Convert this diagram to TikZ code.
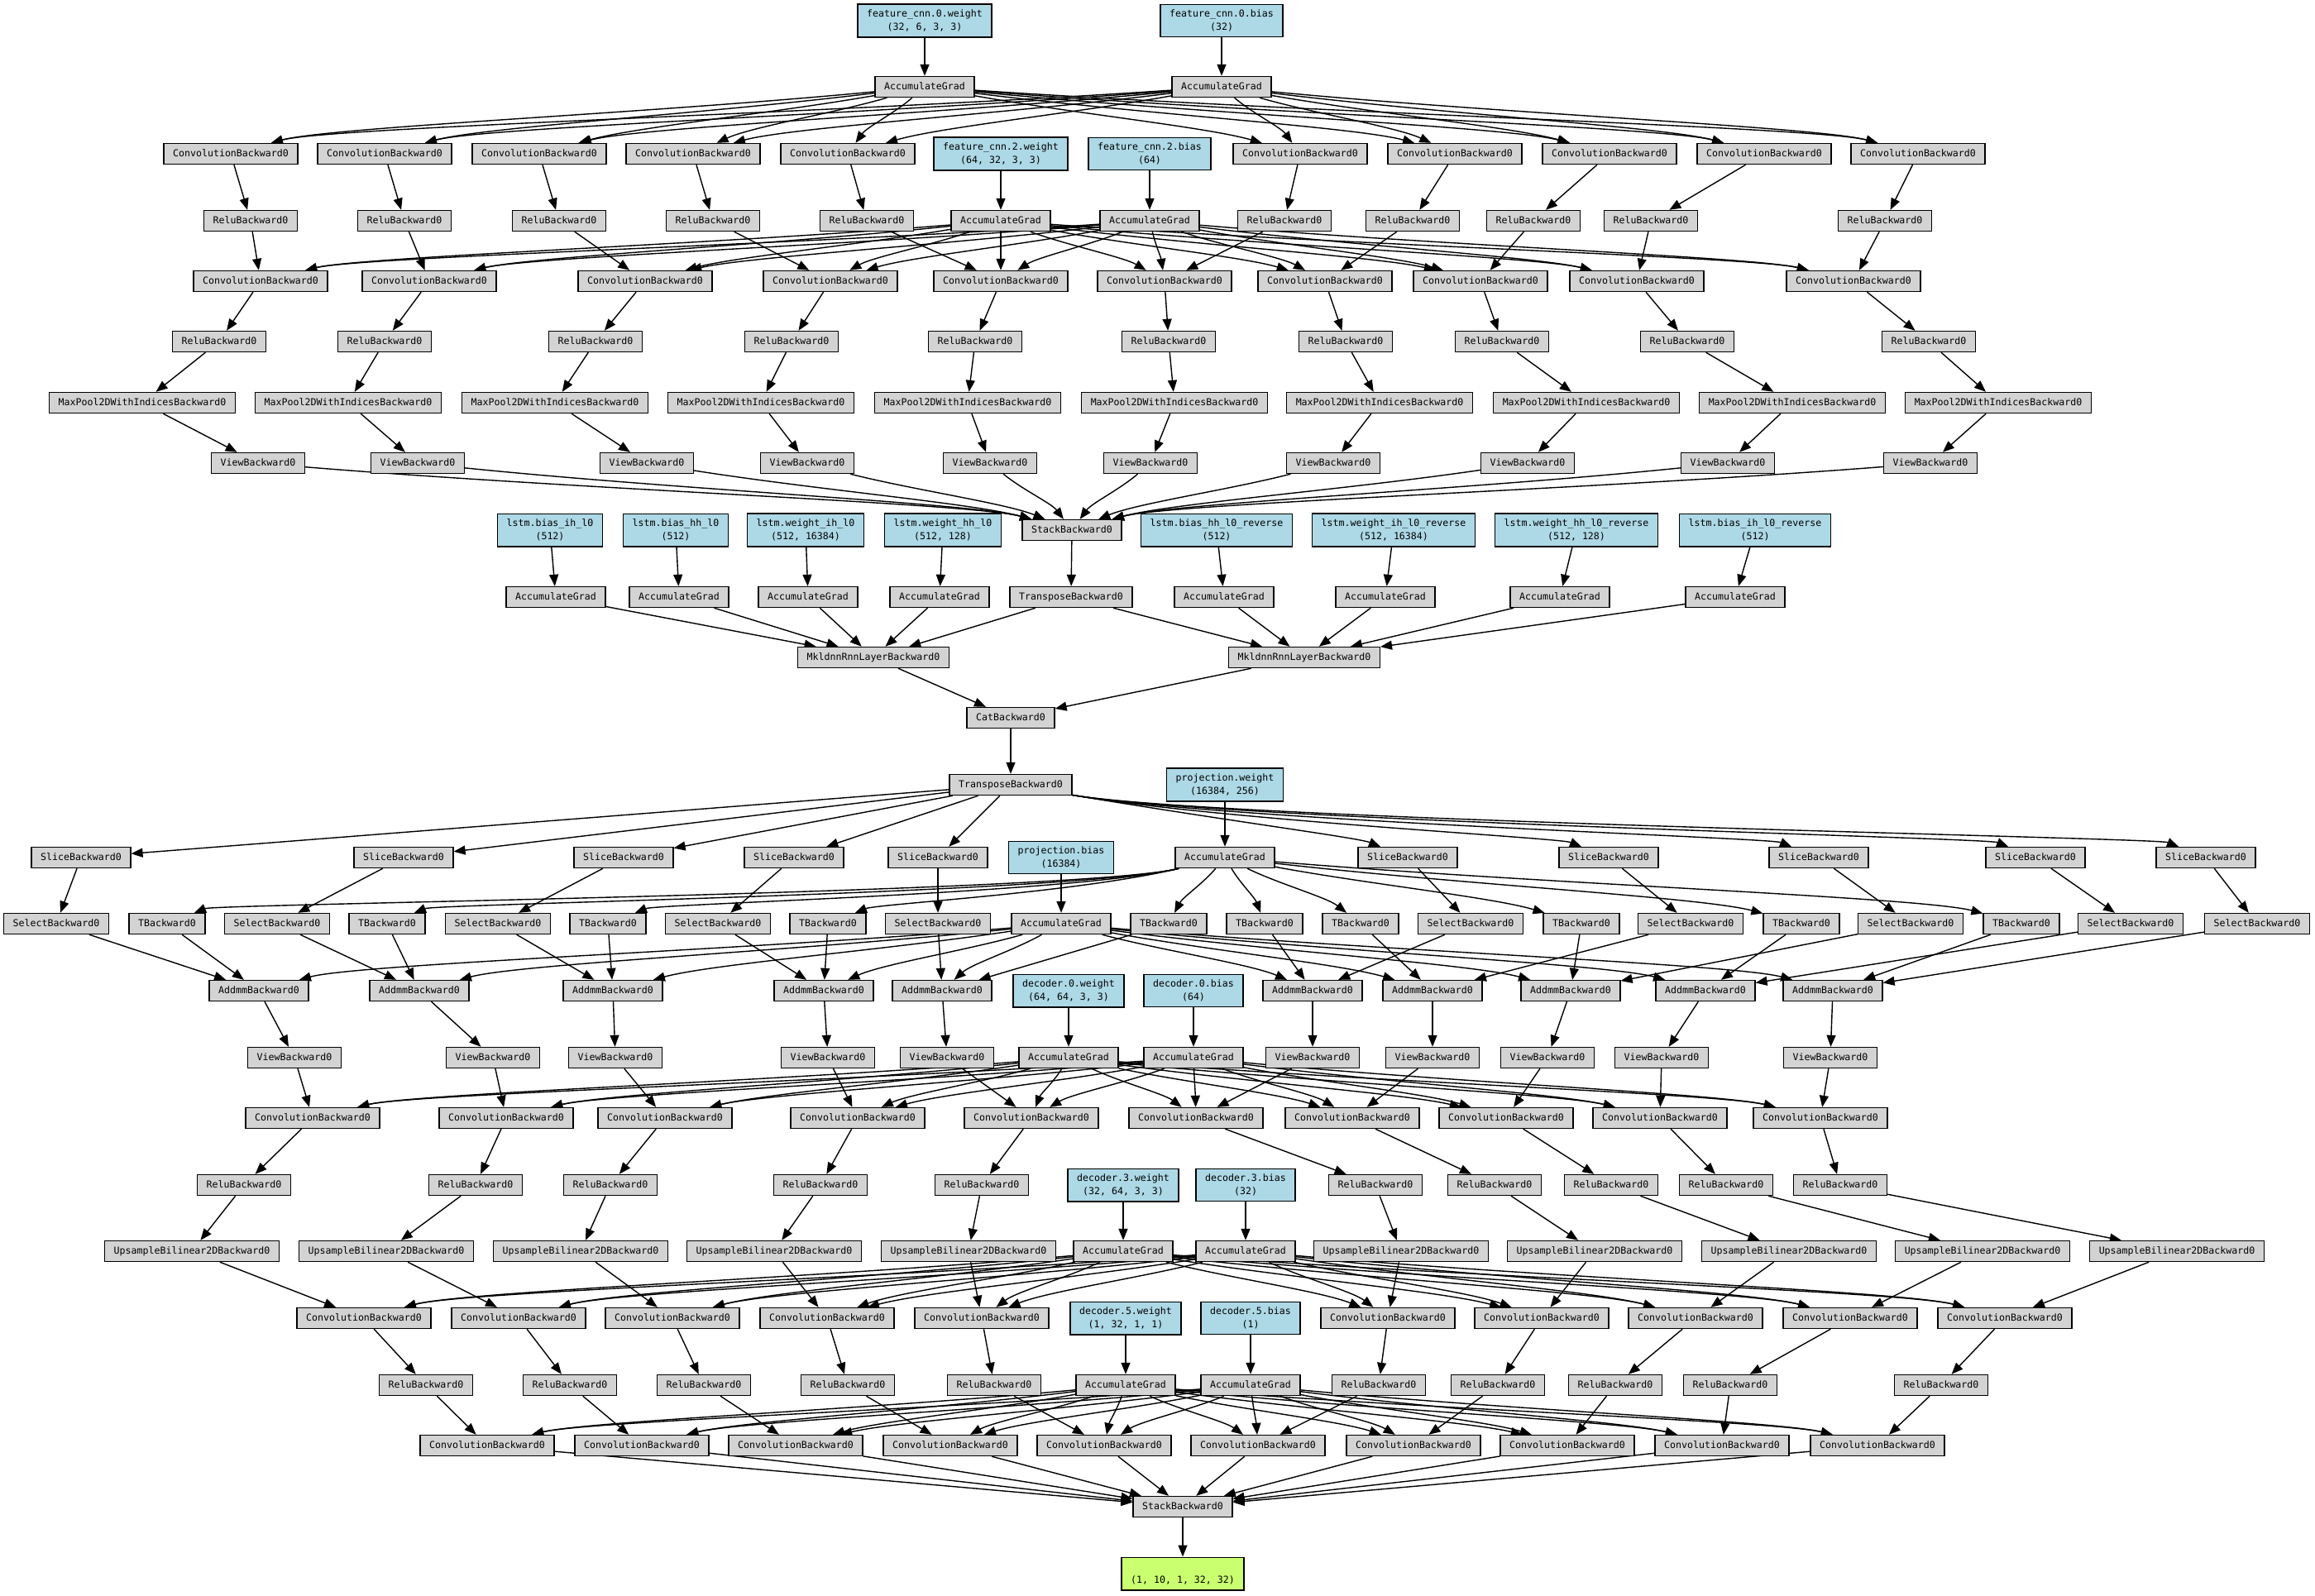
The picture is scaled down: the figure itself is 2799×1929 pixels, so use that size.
\documentclass[tikz,border=0pt]{standalone}
\usepackage{fontspec}
\usetikzlibrary{arrows.meta,calc}
\newfontfamily\gvmono{DejaVu Sans Mono}
\newcommand{\gvfont}{\gvmono\fontsize{5.8}{8}\selectfont}
\definecolor{opgrey}{HTML}{D3D3D3}
\definecolor{parblue}{HTML}{ADD8E6}
\definecolor{outgreen}{HTML}{CAFF70}
\pgfdeclarelayer{edgelayer}
\pgfsetlayers{edgelayer,main}
\makeatletter
\newcommand{\gvedge}[2]{%
  \pgfpointanchor{#1}{center}\edef\gvax{\strip@pt\pgf@x}\edef\gvay{\strip@pt\pgf@y}%
  \pgfpointanchor{#2}{center}\edef\gvbx{\strip@pt\pgf@x}\edef\gvby{\strip@pt\pgf@y}%
  \pgfmathsetmacro{\gvn}{max(-60,min(60,0.25*(\gvax-\gvbx)))}%
  \pgfmathsetmacro{\gvr}{0.4*(\gvay-\gvby)}%
  \draw[e] (#1) .. controls ($(#1)!0.4!(#2)$) and ($(#2)+(\gvn pt,\gvr pt)$) .. (#2);%
}
\makeatother
\begin{document}
\begin{tikzpicture}[x=0.5pt,y=-0.5pt,
  nb/.style={draw=black, line width=0.7pt, font=\gvfont, inner xsep=5.5pt, rectangle},
  op/.style={nb, fill=opgrey, inner ysep=0pt, minimum height=12.5pt, text height=4.3pt, text depth=1.2pt},
  par/.style={nb, fill=parblue, align=center, inner ysep=3.3pt},
  res/.style={nb, fill=outgreen, align=center, inner ysep=3.3pt},
  e/.style={line width=0.7pt, -{Triangle[length=7pt,width=5.5pt]}},
]
\useasboundingbox (0,0) rectangle (2799,1929);

% ---------- feature CNN ----------
\node[par] (w0) at (1118,25) {feature\_cnn.0.weight\\(32, 6, 3, 3)};
\node[par] (b0) at (1477,25) {feature\_cnn.0.bias\\(32)};
\node[op] (A1) at (1118,105) {AccumulateGrad};
\node[op] (A2) at (1477,105) {AccumulateGrad};
\node[par] (w2) at (1210,186) {feature\_cnn.2.weight\\(64, 32, 3, 3)};
\node[par] (b2) at (1390,186) {feature\_cnn.2.bias\\(64)};
\node[op] (A3) at (1210,267) {AccumulateGrad};
\node[op] (A4) at (1390,267) {AccumulateGrad};

\foreach \x [count=\i from 0] in {279,465,652,838,1025,1572,1759,1946,2133,2319}
  \node[op] (ca\i) at (\x,186) {ConvolutionBackward0};
\foreach \x [count=\i from 0] in {303,489,676,862,1048,1553,1708,1854,1996,2279}
  \node[op] (ra\i) at (\x,267) {ReluBackward0};
\foreach \x [count=\i from 0] in {315,519,780,1004,1210,1408,1602,1790,1979,2241}
  \node[op] (cb\i) at (\x,340) {ConvolutionBackward0};
\foreach \x [count=\i from 0] in {265,465,720,957,1179,1413,1627,1816,2040,2332}
  \node[op] (rb\i) at (\x,413) {ReluBackward0};
\foreach \x [count=\i from 0] in {172,421,671,920,1170,1420,1668,1918,2167,2416}
  \node[op] (mp\i) at (\x,487) {MaxPool2DWithIndicesBackward0};
\foreach \x [count=\i from 0] in {312,505,782,976,1197,1391,1612,1847,2089,2334}
  \node[op] (va\i) at (\x,560) {ViewBackward0};

\node[op] (st1) at (1296,641) {StackBackward0};

% ---------- LSTM ----------
\node[par] (l0) at (665,641) {lstm.bias\_ih\_l0\\(512)};
\node[par] (l1) at (817,641) {lstm.bias\_hh\_l0\\(512)};
\node[par] (l2) at (974,641) {lstm.weight\_ih\_l0\\(512, 16384)};
\node[par] (l3) at (1140,641) {lstm.weight\_hh\_l0\\(512, 128)};
\node[par] (l4) at (1471,641) {lstm.bias\_hh\_l0\_reverse\\(512)};
\node[par] (l5) at (1685,641) {lstm.weight\_ih\_l0\_reverse\\(512, 16384)};
\node[par] (l6) at (1906,641) {lstm.weight\_hh\_l0\_reverse\\(512, 128)};
\node[par] (l7) at (2122,641) {lstm.bias\_ih\_l0\_reverse\\(512)};
\foreach \x [count=\i from 0] in {672,821,977,1136,1480,1675,1886,2098}
  \node[op] (g\i) at (\x,722) {AccumulateGrad};
\node[op] (tr1) at (1295,722) {TransposeBackward0};
\node[op] (mk0) at (1056,795) {MkldnnRnnLayerBackward0};
\node[op] (mk1) at (1577,795) {MkldnnRnnLayerBackward0};
\node[op] (cat) at (1222,868) {CatBackward0};
\node[op] (tr2) at (1222,949) {TransposeBackward0};

% ---------- projection ----------
\node[par] (pw) at (1481,949) {projection.weight\\(16384, 256)};
\node[op] (P) at (1481,1037) {AccumulateGrad};
\node[par] (pb) at (1283,1037) {projection.bias\\(16384)};
\node[op] (B) at (1283,1117) {AccumulateGrad};

\foreach \x [count=\i from 0] in {98,488,754,960,1134,1702,1945,2199,2461,2667}
  \node[op] (s\i) at (\x,1037) {SliceBackward0};
\foreach \x [count=\i from 0] in {68,335,602,868,1134,1778,2044,2310,2576,2729}
  \node[op] (q\i) at (\x,1117) {SelectBackward0};
\foreach \x [count=\i from 0] in {202,468,735,1001,1413,1529,1645,1912,2178,2444}
  \node[op] (t\i) at (\x,1117) {TBackward0};
\foreach \x [count=\i from 0] in {313,507,741,996,1139,1587,1732,1899,2062,2216}
  \node[op] (m\i) at (\x,1198) {AddmmBackward0};
\foreach \x [count=\i from 0] in {356,596,744,1001,1145,1587,1732,1871,2009,2213}
  \node[op] (vb\i) at (\x,1279) {ViewBackward0};

% ---------- decoder ----------
\node[par] (dw0) at (1292,1198) {decoder.0.weight\\(64, 64, 3, 3)};
\node[par] (db0) at (1443,1198) {decoder.0.bias\\(64)};
\node[op] (D0w) at (1292,1279) {AccumulateGrad};
\node[op] (D0b) at (1443,1279) {AccumulateGrad};
\node[par] (dw3) at (1358,1433) {decoder.3.weight\\(32, 64, 3, 3)};
\node[par] (db3) at (1506,1433) {decoder.3.bias\\(32)};
\node[op] (D3w) at (1358,1513) {AccumulateGrad};
\node[op] (D3b) at (1506,1513) {AccumulateGrad};
\node[par] (dw5) at (1361,1594) {decoder.5.weight\\(1, 32, 1, 1)};
\node[par] (db5) at (1512,1594) {decoder.5.bias\\(1)};
\node[op] (D5w) at (1361,1675) {AccumulateGrad};
\node[op] (D5b) at (1512,1675) {AccumulateGrad};

\foreach \x [count=\i from 0] in {378,612,804,1037,1247,1446,1635,1821,2007,2201}
  \node[op] (cc\i) at (\x,1352) {ConvolutionBackward0};
\foreach \x [count=\i from 0] in {295,575,738,992,1187,1663,1807,1948,2087,2225}
  \node[op] (rc\i) at (\x,1433) {ReluBackward0};
\foreach \x [count=\i from 0] in {232,467,702,936,1171,1694,1928,2163,2397,2632}
  \node[op] (u\i) at (\x,1513) {UpsampleBilinear2DBackward0};
\foreach \x [count=\i from 0] in {440,627,813,1000,1187,1678,1864,2050,2237,2424}
  \node[op] (cd\i) at (\x,1594) {ConvolutionBackward0};
\foreach \x [count=\i from 0] in {515,689,851,1025,1202,1667,1811,1953,2092,2347}
  \node[op] (rd\i) at (\x,1675) {ReluBackward0};
\foreach \x [count=\i from 0] in {589,776,962,1149,1335,1521,1709,1895,2082,2270}
  \node[op] (ce\i) at (\x,1748) {ConvolutionBackward0};
\node[op] (st2) at (1430,1822) {StackBackward0};
\node[res] (out) at (1430,1903) {\rule{0pt}{4.4pt}\\(1, 10, 1, 32, 32)};

% ---------- edges ----------
\begin{pgfonlayer}{edgelayer}
\draw[e] (w0) -- (A1);
\draw[e] (b0) -- (A2);
\draw[e] (w2) -- (A3);
\draw[e] (b2) -- (A4);
\foreach \i in {0,...,9} {
  \gvedge{A1}{ca\i}
  \gvedge{A2}{ca\i}
  \draw[e] (ca\i) -- (ra\i);
  \draw[e] (ra\i) -- (cb\i);
  \gvedge{A3}{cb\i}
  \gvedge{A4}{cb\i}
  \draw[e] (cb\i) -- (rb\i);
  \draw[e] (rb\i) -- (mp\i);
  \draw[e] (mp\i) -- (va\i);
  \gvedge{va\i}{st1}
}
\foreach \i in {0,...,7} \draw[e] (l\i) -- (g\i);
\foreach \i in {0,...,3} \draw[e] (g\i) -- (mk0);
\foreach \i in {4,...,7} \draw[e] (g\i) -- (mk1);
\draw[e] (st1) -- (tr1);
\draw[e] (tr1) -- (mk0);
\draw[e] (tr1) -- (mk1);
\draw[e] (mk0) -- (cat);
\draw[e] (mk1) -- (cat);
\draw[e] (cat) -- (tr2);
\draw[e] (pw) -- (P);
\draw[e] (pb) -- (B);
\foreach \i in {0,...,4} \draw[e] (tr2) -- (s\i);
\foreach \i in {5,...,9} \draw[e] (tr2) .. controls (1480,992) and ($(s\i)+(-30pt,12pt)$) .. (s\i);
\foreach \i in {0,...,3} \draw[e] (P) .. controls (1300,1080) and ($(t\i)+(30pt,12pt)$) .. (t\i);
\foreach \i in {4,...,9} {\gvedge{P}{t\i}}
\foreach \i in {0,...,9} {
  \draw[e] (s\i) -- (q\i);
  \draw[e] (q\i) -- (m\i);
  \draw[e] (t\i) -- (m\i);
  \gvedge{B}{m\i}
  \draw[e] (m\i) -- (vb\i);
  \draw[e] (vb\i) -- (cc\i);
  \gvedge{D0w}{cc\i}
  \gvedge{D0b}{cc\i}
  \draw[e] (cc\i) -- (rc\i);
  \draw[e] (rc\i) -- (u\i);
  \draw[e] (u\i) -- (cd\i);
  \gvedge{D3w}{cd\i}
  \gvedge{D3b}{cd\i}
  \draw[e] (cd\i) -- (rd\i);
  \draw[e] (rd\i) -- (ce\i);
  \gvedge{D5w}{ce\i}
  \gvedge{D5b}{ce\i}
  \draw[e] (ce\i) -- (st2);
}
\draw[e] (dw0) -- (D0w);
\draw[e] (db0) -- (D0b);
\draw[e] (dw3) -- (D3w);
\draw[e] (db3) -- (D3b);
\draw[e] (dw5) -- (D5w);
\draw[e] (db5) -- (D5b);
\draw[e] (st2) -- (out);
\end{pgfonlayer}
\end{tikzpicture}
\end{document}
